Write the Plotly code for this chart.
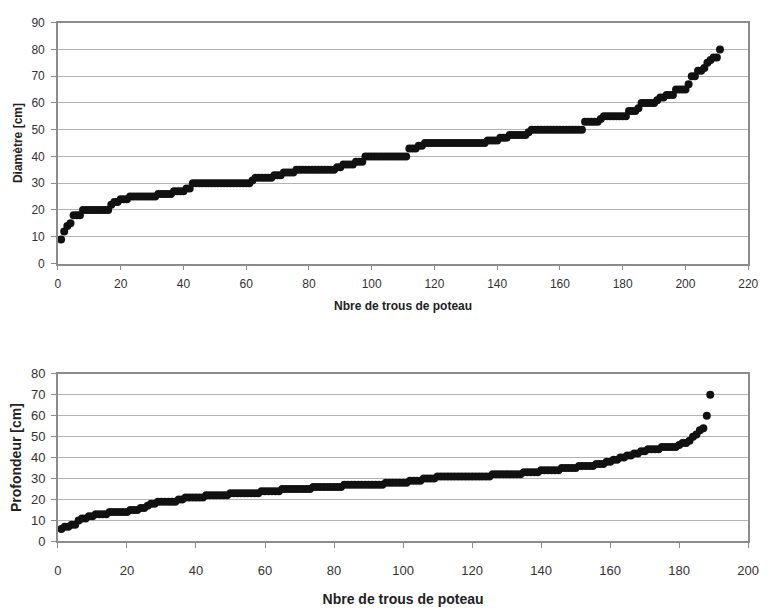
import plotly.graph_objects as go

# Diamètre [cm] of each post hole, sorted (hole number 1..211)
diametre = [
    9, 12, 14, 15,
    18, 18, 18,
    20, 20, 20, 20, 20, 20, 20, 20, 20,
    22,
    23, 23,
    24, 24, 24,
    25, 25, 25, 25, 25, 25, 25, 25, 25,
    26, 26, 26, 26, 26,
    27, 27, 27, 27,
    28, 28,
    30, 30, 30, 30, 30, 30, 30, 30, 30, 30, 30, 30, 30, 30, 30, 30, 30, 30, 30,
    31,
    32, 32, 32, 32, 32, 32,
    33, 33, 33,
    34, 34, 34, 34,
    35, 35, 35, 35, 35, 35, 35, 35, 35, 35, 35, 35, 35,
    36, 36,
    37, 37, 37, 37,
    38, 38, 38,
    40, 40, 40, 40, 40, 40, 40, 40, 40, 40, 40, 40, 40, 40,
    43, 43, 43,
    44, 44,
    45, 45, 45, 45, 45, 45, 45, 45, 45, 45, 45, 45, 45, 45, 45, 45, 45, 45, 45, 45,
    46, 46, 46, 46,
    47, 47, 47,
    48, 48, 48, 48, 48, 48,
    49,
    50, 50, 50, 50, 50, 50, 50, 50, 50, 50, 50, 50, 50, 50, 50, 50, 50,
    53, 53, 53, 53, 53,
    54,
    55, 55, 55, 55, 55, 55, 55, 55,
    57, 57, 57,
    58,
    60, 60, 60, 60, 60,
    61,
    62, 62,
    63, 63, 63,
    65, 65, 65, 65,
    67,
    70, 70,
    72, 72,
    73,
    75,
    76,
    77, 77,
    80,
]

# Profondeur [cm] of each post hole, sorted (hole number 1..189)
profondeur = [
    6,
    7, 7,
    8, 8,
    10,
    11, 11,
    12, 12,
    13, 13, 13, 13,
    14, 14, 14, 14, 14, 14,
    15, 15, 15,
    16, 16,
    17,
    18, 18,
    19, 19, 19, 19, 19, 19,
    20, 20,
    21, 21, 21, 21, 21, 21,
    22, 22, 22, 22, 22, 22, 22,
    23, 23, 23, 23, 23, 23, 23, 23, 23,
    24, 24, 24, 24, 24, 24,
    25, 25, 25, 25, 25, 25, 25, 25, 25,
    26, 26, 26, 26, 26, 26, 26, 26, 26,
    27, 27, 27, 27, 27, 27, 27, 27, 27, 27, 27, 27,
    28, 28, 28, 28, 28, 28, 28,
    29, 29, 29, 29,
    30, 30, 30, 30,
    31, 31, 31, 31, 31, 31, 31, 31, 31, 31, 31, 31, 31, 31, 31, 31,
    32, 32, 32, 32, 32, 32, 32, 32, 32,
    33, 33, 33, 33, 33,
    34, 34, 34, 34, 34, 34,
    35, 35, 35, 35, 35,
    36, 36, 36, 36, 36,
    37, 37, 37,
    38, 38,
    39, 39,
    40, 40,
    41, 41,
    42, 42,
    43, 43,
    44, 44, 44, 44,
    45, 45, 45, 45, 45,
    46,
    47, 47,
    48,
    50,
    51,
    53,
    54,
    60,
    70,
]

x_top = list(range(1, len(diametre) + 1))
x_bot = list(range(1, len(profondeur) + 1))

x_title = "Nbre de trous de poteau"
y_title_top = "Diamètre [cm]"
y_title_bot = "Profondeur [cm]"

FONT = "Liberation Sans, Arial, sans-serif"
marker = dict(color="#111111", size=8, symbol="circle")

fig = go.Figure()
fig.add_trace(go.Scatter(x=x_top, y=diametre, mode="markers", marker=marker,
                         xaxis="x", yaxis="y", showlegend=False))
fig.add_trace(go.Scatter(x=x_bot, y=profondeur, mode="markers", marker=marker,
                         xaxis="x2", yaxis="y2", showlegend=False))

W, H = 770, 608
xd = [55 / W, 759 / W]
top_dom = [(H - 263) / H, (H - 16) / H]
bot_dom = [(H - 548) / H, (H - 376) / H]

axis_common = dict(
    showline=True, mirror=True, linecolor="#8c8c8c", linewidth=1.5,
    ticks="outside", ticklen=5, tickcolor="#8c8c8c",
    zeroline=False,
)
top_tick = dict(family=FONT, size=12, color="#333333")
bot_tick = dict(family=FONT, size=13, color="#333333")

fig.update_layout(
    width=W, height=H,
    margin=dict(l=0, r=0, t=0, b=0),
    paper_bgcolor="white", plot_bgcolor="white",
    font=dict(family=FONT, color="#222222"),
    xaxis=dict(domain=xd, anchor="y", range=[0, 220], dtick=20, showgrid=False,
               tickfont=top_tick, ticklabelstandoff=3,
               title=dict(text="<b>" + x_title + "</b>", font=dict(size=12), standoff=12),
               **axis_common),
    yaxis=dict(domain=top_dom, anchor="x", range=[0, 90], dtick=10,
               showgrid=True, gridcolor="#b4b4b4", gridwidth=1,
               tickfont=top_tick, ticklabelstandoff=4,
               title=dict(text="<b>" + y_title_top + "</b>", font=dict(size=12), standoff=6),
               **axis_common),
    xaxis2=dict(domain=xd, anchor="y2", range=[0, 200], dtick=20, showgrid=False,
                tickfont=bot_tick, ticklabelstandoff=11,
                title=dict(text="<b>" + x_title + "</b>", font=dict(size=14), standoff=17),
                **axis_common),
    yaxis2=dict(domain=bot_dom, anchor="x2", range=[0, 80], dtick=10,
                showgrid=True, gridcolor="#b4b4b4", gridwidth=1,
                tickfont=bot_tick, ticklabelstandoff=3,
                title=dict(text="<b>" + y_title_bot + "</b>", font=dict(size=14), standoff=6),
                **axis_common),
)

fig.write_html("out.html")
